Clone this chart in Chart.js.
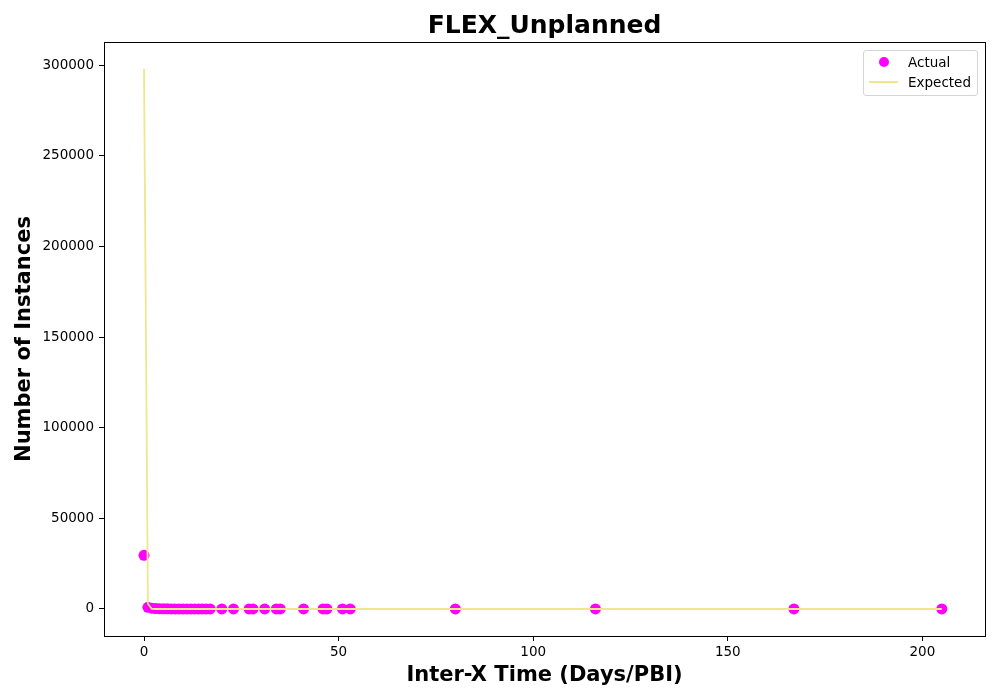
<!DOCTYPE html>
<html>
<head>
<meta charset="utf-8">
<script src="https://cdn.jsdelivr.net/npm/chart.js@4/dist/chart.umd.min.js"></script>
<style>
  body { margin: 0; background: #fff; }
  #wrap { position: relative; width: 1000px; height: 700px; }
  #legend {
    position: absolute; left: 863px; top: 50px; width: 113px; height: 44px;
    border: 1px solid #d5d5d5; border-radius: 3px; background: rgba(255,255,255,0.8);
    font-family: "DejaVu Sans", sans-serif; font-size: 13.5px; color: #000;
  }
  #legend .row { position: absolute; left: 0; height: 18px; line-height: 18px; }
  #legend .dot { position: absolute; left: 15px; top: 4px; width: 10px; height: 10px; border-radius: 50%; background: #ff00ff; }
  #legend .ln { position: absolute; left: 5px; top: 8px; width: 29px; height: 2px; background: #f0e68c; }
  #legend .txt { position: absolute; left: 44px; top: 0; white-space: nowrap; }
</style>
</head>
<body>
<div id="wrap">
  <canvas id="chart" width="1000" height="700"></canvas>
  <div id="legend">
    <div class="row" style="top:2px"><span class="dot"></span><span class="txt">Actual</span></div>
    <div class="row" style="top:22px"><span class="ln"></span><span class="txt">Expected</span></div>
  </div>
</div>
<script>
// inter-x times (days) and counts
const xValues = [0, 1, 2, 3, 4, 5, 6, 7, 8, 9, 10, 11, 12, 13, 14, 15, 16, 17,
  20, 23, 27, 28, 31, 34, 35, 41, 46, 47, 51, 53, 80, 116, 167, 205];
const actualCounts = [29600, 900, 420, 230, 150, 100, 70, 50, 40, 30, 25, 20, 15, 12, 10, 8, 6, 5,
  4, 3, 2, 2, 2, 1, 1, 1, 1, 1, 1, 1, 1, 1, 1, 1];
const expectedCounts = [298000, 2900, 30, 1, 0, 0, 0, 0, 0, 0, 0, 0, 0, 0, 0, 0, 0, 0,
  0, 0, 0, 0, 0, 0, 0, 0, 0, 0, 0, 0, 0, 0, 0, 0];
const xTicks = [0, 50, 100, 150, 200];
const yTicks = [0, 50000, 100000, 150000, 200000, 250000, 300000];
const chartTitle = 'FLEX_Unplanned';

const font = '"DejaVu Sans", sans-serif';

const actualPoints = xValues.map((x, i) => ({ x: x, y: actualCounts[i] }));
const expectedPoints = xValues.map((x, i) => ({ x: x, y: expectedCounts[i] }));

// box around the plot area like matplotlib spines, title centred over the axes
const frame = {
    id: 'frame',
    afterDraw(chart) {
        const a = chart.chartArea;
        const ctx = chart.ctx;
        ctx.save();
        ctx.strokeStyle = '#000';
        ctx.lineWidth = 1;
        ctx.strokeRect(a.left + 0.5, a.top + 0.5, a.right - a.left, a.bottom - a.top);
        ctx.fillStyle = '#000';
        ctx.font = 'bold 25px ' + font;
        ctx.textAlign = 'center';
        ctx.textBaseline = 'middle';
        ctx.fillText(chartTitle, (a.left + a.right) / 2, 26);
        ctx.restore();
    }
};

const ctx = document.getElementById('chart').getContext('2d');
const chart = new Chart(ctx, {
    type: 'scatter',
    data: {
        datasets: [
            {
                type: 'line',
                label: 'Expected',
                data: expectedPoints,
                borderColor: '#f0e68c',
                borderWidth: 1.8,
                pointRadius: 0,
                tension: 0,
                order: 0
            },
            {
                label: 'Actual',
                data: actualPoints,
                backgroundColor: '#ff00ff',
                borderColor: '#ff00ff',
                pointRadius: 5.5,
                borderWidth: 0,
                order: 1
            }
        ]
    },
    options: {
        responsive: false,
        animation: false,
        layout: { padding: { left: 0, right: 15, top: 42, bottom: 0 } },
        plugins: {
            legend: { display: false },
            tooltip: { enabled: false },
            title: { display: false }
        },
        scales: {
            x: {
                type: 'linear',
                min: -10.28,
                max: 216.1,
                afterFit: s => { s.height = 64; },
                afterBuildTicks: s => { s.ticks = xTicks.map(v => ({ value: v })); },
                grid: { drawOnChartArea: false, tickLength: 5, color: '#000', tickColor: '#000' },
                border: { display: false },
                ticks: { color: '#000', font: { family: font, size: 13.5 }, padding: 3, maxRotation: 0,
                         callback: v => String(v) },
                title: {
                    display: true,
                    text: 'Inter-X Time (Days/PBI)',
                    color: '#000',
                    font: { family: font, size: 21, weight: 'bold' },
                    padding: { top: 0, bottom: 12 }
                }
            },
            y: {
                type: 'linear',
                min: -14900,
                max: 312700,
                afterFit: s => { s.width = 104; },
                afterBuildTicks: s => { s.ticks = yTicks.map(v => ({ value: v })); },
                grid: { drawOnChartArea: false, tickLength: 5, color: '#000', tickColor: '#000' },
                border: { display: false },
                ticks: { color: '#000', font: { family: font, size: 13.5 }, padding: 5,
                         callback: v => String(v) },
                title: {
                    display: true,
                    text: 'Number of Instances',
                    color: '#000',
                    font: { family: font, size: 21, weight: 'bold' },
                    padding: { top: 12, bottom: 0 }
                }
            }
        }
    },
    plugins: [frame]
});
</script>
</body>
</html>
